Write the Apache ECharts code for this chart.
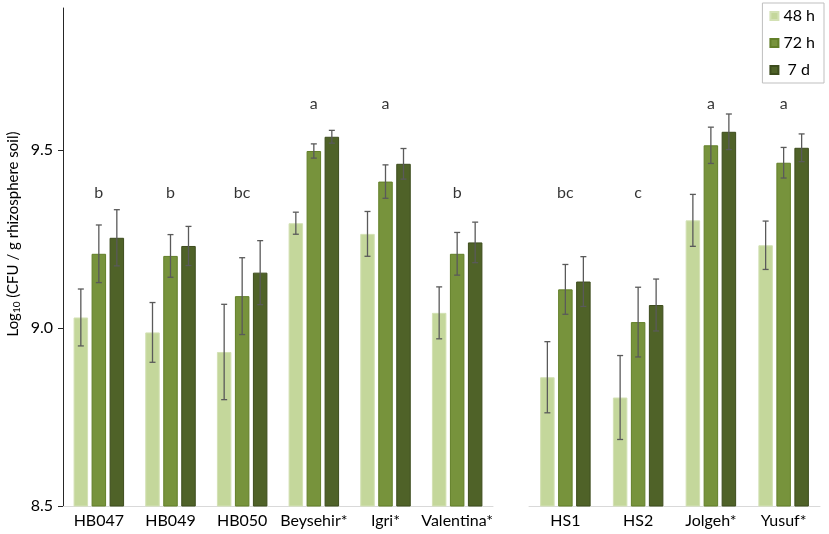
<!DOCTYPE html>
<html>
<head>
<meta charset="utf-8">
<script src="https://cdn.jsdelivr.net/npm/echarts@6/dist/echarts.min.js"></script>
<style>html,body{margin:0;padding:0;background:#fff}#c{width:829px;height:534px}</style>
</head>
<body>
<div id="c"></div>
<script>
// ---- data ----
const categoriesA = ['HB047', 'HB049', 'HB050', 'Beysehir*', 'Igri*', 'Valentina*'];
const categoriesB = ['HS1', 'HS2', 'Jolgeh*', 'Yusuf*'];
const seriesNames = ['48 h', '72 h', '7 d'];
// means (group A then group B)
const h48A = [9.030, 8.988, 8.933, 9.295, 9.265, 9.043];
const h72A = [9.209, 9.203, 9.090, 9.498, 9.412, 9.209];
const d7A  = [9.254, 9.231, 9.156, 9.538, 9.462, 9.241];
const h48B = [8.862, 8.805, 9.303, 9.233];
const h72B = [9.109, 9.017, 9.514, 9.465];
const d7B  = [9.131, 9.065, 9.552, 9.507];
// error (+/-)
const e48A = [0.080, 0.084, 0.134, 0.031, 0.063, 0.073];
const e72A = [0.081, 0.060, 0.108, 0.020, 0.047, 0.060];
const ed7A = [0.079, 0.055, 0.090, 0.018, 0.043, 0.057];
const e48B = [0.100, 0.118, 0.073, 0.068];
const e72B = [0.070, 0.098, 0.051, 0.043];
const ed7B = [0.070, 0.073, 0.050, 0.039];
// significance letters
const lettersA = ['b', 'b', 'bc', 'a', 'a', 'b'];
const lettersB = ['bc', 'c', 'a', 'a'];
const yTicks = [8.5, 9.0, 9.5];

// ---- style ----
const colors = ['#C4D79B', '#77933C', '#4F6228'];
const borders = ['#d3e1b4', '#627f28', '#3d4c1d'];
const FONT = 'Lato';
const BAR_W = 14.5;
const BAR_GAP = 3.5;
const LETTER_Y = { a: 9.63, b: 9.38, bc: 9.38, c: 9.38 };

const chart = echarts.init(document.getElementById('c'), null, { renderer: 'canvas' });

function errSeries(gi, si, means, errs) {
  return {
    type: 'custom',
    xAxisIndex: gi, yAxisIndex: gi,
    z: 10,
    silent: true,
    data: means.map((m, i) => [i, m, errs[i]]),
    encode: { x: 0, y: 1 },
    renderItem: function (params, api) {
      const off = (si - 1) * (BAR_W + BAR_GAP);
      const c = api.value(0), m = api.value(1), e = api.value(2);
      const x = api.coord([c, m])[0] + off;
      const yt = api.coord([c, m + e])[1];
      const yb = api.coord([c, m - e])[1];
      const st = { stroke: '#5a5a5a', lineWidth: 1.3 };
      const cap = 3;
      return {
        type: 'group',
        children: [
          { type: 'line', shape: { x1: x, y1: yt, x2: x, y2: yb }, style: st },
          { type: 'line', shape: { x1: x - cap, y1: yt, x2: x + cap, y2: yt }, style: st },
          { type: 'line', shape: { x1: x - cap, y1: yb, x2: x + cap, y2: yb }, style: st }
        ]
      };
    }
  };
}

function barSeries(gi, si, data) {
  return {
    name: seriesNames[si],
    type: 'bar',
    xAxisIndex: gi, yAxisIndex: gi,
    barWidth: BAR_W,
    barGap: (BAR_GAP / BAR_W * 100) + '%',
    data: data,
    itemStyle: { color: colors[si], borderColor: borders[si], borderWidth: 1 }
  };
}

function letterSeries(gi, letters) {
  return {
    type: 'scatter',
    xAxisIndex: gi, yAxisIndex: gi,
    symbolSize: 1,
    itemStyle: { color: 'rgba(0,0,0,0)' },
    silent: true,
    data: letters.map((l, i) => ({ value: [i, LETTER_Y[l]], name: l })),
    label: {
      show: true, position: 'inside', formatter: p => p.name,
      color: '#000', fontSize: 16, fontFamily: FONT
    }
  };
}

const yBase = {
  type: 'value', min: 8.5, max: 9.9, interval: 0.5,
  splitLine: { show: false }
};

const option = {
  animation: false,
  backgroundColor: '#fff',
  textStyle: { fontFamily: FONT },
  graphic: [{
    type: 'text',
    x: 13, y: 234,
    rotation: Math.PI / 2,
    silent: true,
    style: {
      text: '{t|Log}{s|10}{t| (CFU / g rhizosphere soil)}',
      align: 'center', verticalAlign: 'middle',
      rich: {
        t: { fontSize: 15, fontFamily: FONT, fill: '#000', color: '#000' },
        s: { fontSize: 10, fontFamily: FONT, fill: '#000', color: '#000', padding: [7, 0, 0, 0] }
      }
    }
  }],
  legend: {
    data: seriesNames,
    orient: 'vertical',
    right: 5, top: 3,
    padding: [5, 9, 5, 7],
    itemGap: 11,
    itemWidth: 8, itemHeight: 8,
    icon: 'rect',
    borderColor: '#bfbfbf', borderWidth: 1,
    formatter: n => (n === '7 d' ? ' 7 d' : n),
    textStyle: { fontSize: 16, color: '#000', fontFamily: FONT }
  },
  grid: [
    { left: 63, right: 336, top: 8, bottom: 28 },
    { left: 529, right: 9, top: 8, bottom: 28 }
  ],
  xAxis: [
    {
      type: 'category', gridIndex: 0, data: categoriesA,
      axisLine: { lineStyle: { color: '#d9d9d9', width: 1 } },
      axisTick: { show: false },
      axisLabel: { color: '#000', fontSize: 16, fontFamily: FONT, margin: 7, interval: 0 }
    },
    {
      type: 'category', gridIndex: 1, data: categoriesB,
      axisLine: { lineStyle: { color: '#d9d9d9', width: 1 } },
      axisTick: { show: false },
      axisLabel: { color: '#000', fontSize: 16, fontFamily: FONT, margin: 7, interval: 0 }
    }
  ],
  yAxis: [
    Object.assign({}, yBase, {
      gridIndex: 0,
      axisLine: { show: true, lineStyle: { color: '#262626', width: 1 } },
      axisTick: { show: true, length: 5, customValues: yTicks, lineStyle: { color: '#262626' } },
      axisLabel: {
        customValues: yTicks, color: '#000', fontSize: 16, fontFamily: FONT, margin: 10,
        formatter: v => v.toFixed(1)
      }
    }),
    Object.assign({}, yBase, {
      gridIndex: 1, show: false
    })
  ],
  series: [
    barSeries(0, 0, h48A), barSeries(0, 1, h72A), barSeries(0, 2, d7A),
    barSeries(1, 0, h48B), barSeries(1, 1, h72B), barSeries(1, 2, d7B),
    errSeries(0, 0, h48A, e48A), errSeries(0, 1, h72A, e72A), errSeries(0, 2, d7A, ed7A),
    errSeries(1, 0, h48B, e48B), errSeries(1, 1, h72B, e72B), errSeries(1, 2, d7B, ed7B),
    letterSeries(0, lettersA), letterSeries(1, lettersB)
  ]
};
chart.setOption(option);
</script>
</body>
</html>
